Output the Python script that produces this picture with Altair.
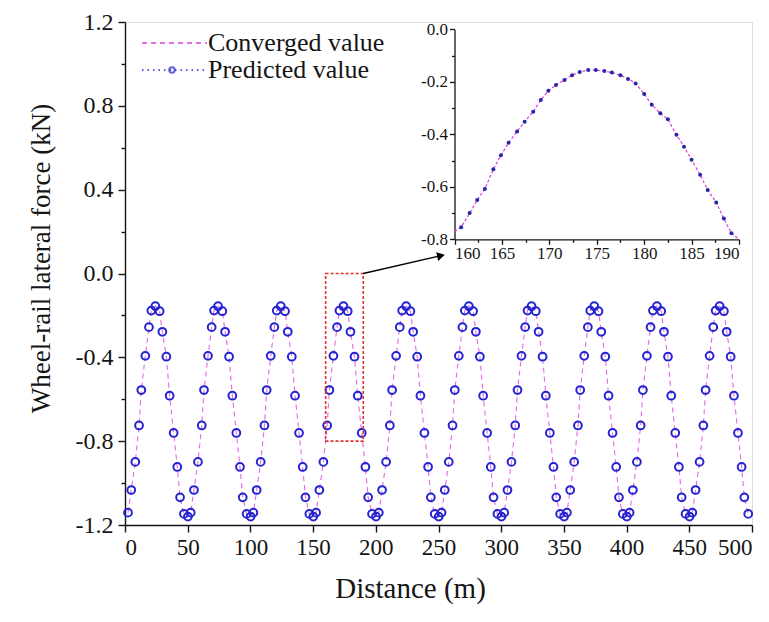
import altair as alt
import pandas as pd

# ---------------- data ----------------
# start of each 50 m cycle along the track
cycle_start = [0, 50, 100, 150, 200, 250, 300, 350, 400, 450]
# positions inside one cycle (m) and the force read at them (kN)
cycle_offset = [2.4, 5.0, 8.2, 11.2, 13.0, 16.2, 19.1, 21.0, 24.2, 27.6,
                29.8, 33.0, 35.6, 38.8, 41.7, 43.9, 47.0, 50.2]
cycle_force = [-1.141, -1.033, -0.899, -0.725, -0.556, -0.393, -0.256, -0.177, -0.156, -0.180,
               -0.278, -0.397, -0.583, -0.761, -0.923, -1.068, -1.147, -1.160]

# inset (zoom 160-190 m)
inset_dist = [160.0, 160.7, 161.6, 162.4, 163.2, 164.1, 164.9, 165.7, 166.6, 167.4, 168.3,
              169.1, 169.9, 170.7, 171.6, 172.4, 173.2, 174.1, 174.9, 175.8,
              176.6, 177.5, 178.3, 179.1, 180.0, 180.8, 181.7, 182.5, 183.4,
              184.2, 185.0, 185.9, 186.7, 187.6, 188.4, 189.2, 190.0]
inset_force = [-0.770, -0.754, -0.700, -0.650, -0.608, -0.533, -0.480, -0.432, -0.389, -0.352, -0.314,
               -0.269, -0.234, -0.212, -0.193, -0.175, -0.163, -0.155, -0.155, -0.159,
               -0.165, -0.175, -0.189, -0.206, -0.246, -0.287, -0.320, -0.343, -0.402,
               -0.447, -0.497, -0.554, -0.612, -0.660, -0.721, -0.777, -0.800]

zoom_box = {"x": [160], "x2": [190], "y": [0.0], "y2": [-0.8]}
arrow = {"x": [190], "y": [0.0], "x2": [252], "y2": [0.085]}

x_ticks = list(range(0, 525, 25))
y_ticks = [-1.2, -1.0, -0.8, -0.6, -0.4, -0.2, 0.0, 0.2, 0.4, 0.6, 0.8, 1.0, 1.2]
ix_ticks = [160, 162.5, 165, 167.5, 170, 172.5, 175, 177.5, 180, 182.5, 185, 187.5, 190]
iy_ticks = [-0.8, -0.7, -0.6, -0.5, -0.4, -0.3, -0.2, -0.1, 0.0]

# ---------------- build tables ----------------
rows = []
for s in cycle_start:
    for o, v in zip(cycle_offset, cycle_force):
        if s + o <= 500:
            rows.append({"dist": s + o, "force": v})
main_df = pd.DataFrame(rows)
inset_df = pd.DataFrame({"dist": inset_dist, "force": inset_force})
inset_pts = inset_df.iloc[1:-1]

FONT = "Liberation Serif"
MAGENTA = "#e040e0"
BLUE = "#2323d2"
INK = "#151515"
W, H = 627, 503

xs = alt.Scale(domain=[0, 500], nice=False, zero=False)
ys = alt.Scale(domain=[-1.2, 1.2], nice=False, zero=False)

x_axis = alt.Axis(
    values=x_ticks, title="Distance (m)", grid=False,
    labelExpr="datum.value % 50 === 0 ? format(datum.value, 'd') : ''",
    tickSize={"expr": "datum.value % 50 === 0 ? 7 : 4"},
    labelFont=FONT, labelFontSize=23, labelColor=INK, labelPadding=4,
    titleFont=FONT, titleFontSize=29, titleFontWeight="normal", titleColor=INK, titlePadding=15,
    titleX=285,
    domainColor=INK, tickColor=INK, domainWidth=1.4, tickWidth=1.4,
)
y_axis = alt.Axis(
    values=y_ticks, title="Wheel-rail lateral force (kN)", grid=False,
    labelExpr="abs(round(datum.value*10)) % 4 === 0 ? replace(format(datum.value, '.1f'), '\u2212', '-') : ''",
    tickSize={"expr": "abs(round(datum.value*10)) % 4 === 0 ? 7 : 4"},
    labelFont=FONT, labelFontSize=24, labelColor=INK, labelPadding=5,
    titleFont=FONT, titleFontSize=27, titleFontWeight="normal", titleColor=INK, titlePadding=20,
    titleY=236,
    domainColor=INK, tickColor=INK, domainWidth=1.4, tickWidth=1.4,
)

conv_line = alt.Chart(main_df).mark_line(
    color=MAGENTA, strokeDash=[5, 4], strokeWidth=1.1, opacity=0.8
).encode(
    x=alt.X("dist:Q", scale=xs, axis=x_axis),
    y=alt.Y("force:Q", scale=ys, axis=y_axis),
)
pred_pts = alt.Chart(main_df).mark_point(
    shape="circle", filled=False, color=BLUE, size=60, strokeWidth=2, opacity=1
).encode(x=alt.X("dist:Q", scale=xs), y=alt.Y("force:Q", scale=ys))

box = alt.Chart(pd.DataFrame(zoom_box)).mark_rect(
    fill=None, stroke="#e03030", strokeDash=[3, 2], strokeWidth=1.6
).encode(x=alt.X("x:Q", scale=xs), x2="x2:Q", y=alt.Y("y:Q", scale=ys), y2="y2:Q")

arrow_df = pd.DataFrame(arrow)
arrow_line = alt.Chart(arrow_df).mark_rule(color="black", strokeWidth=1.4).encode(
    x=alt.X("x:Q", scale=xs), y=alt.Y("y:Q", scale=ys), x2="x2:Q", y2="y2:Q")
arrow_head = alt.Chart(arrow_df).mark_point(
    shape="triangle-right", filled=True, color="black", size=80, angle=347, opacity=1
).encode(x=alt.X("x2:Q", scale=xs), y=alt.Y("y2:Q", scale=ys))

# legend
leg_conv = alt.Chart().mark_rule(color=MAGENTA, strokeDash=[5, 4], strokeWidth=1.3).encode(
    x=alt.value(17), x2=alt.value(82), y=alt.value(21))
leg_pred = alt.Chart().mark_rule(color=BLUE, strokeDash=[1.5, 4], strokeWidth=1.4).encode(
    x=alt.value(17), x2=alt.value(82), y=alt.value(48))
leg_circ = alt.Chart().mark_point(shape="circle", filled=False, color=BLUE, size=30, strokeWidth=2).encode(
    x=alt.value(47), y=alt.value(48))
leg_t1 = alt.Chart().mark_text(align="left", baseline="middle", font=FONT, fontSize=26, color=INK).encode(
    x=alt.value(83), y=alt.value(21), text=alt.value("Converged value"))
leg_t2 = alt.Chart().mark_text(align="left", baseline="middle", font=FONT, fontSize=26, color=INK).encode(
    x=alt.value(83), y=alt.value(48), text=alt.value("Predicted value"))

main = alt.layer(conv_line, pred_pts, box, arrow_line, arrow_head, leg_conv, leg_pred, leg_circ, leg_t1, leg_t2)

# inset
IX0, IX1 = 329.5, 614
IY0, IY1 = 217.3, 7.3
ixs = alt.Scale(domain=[160, 190], range=[IX0, IX1], nice=False, zero=False)
iys = alt.Scale(domain=[-0.8, 0.0], range=[IY0, IY1], nice=False, zero=False)
ix_axis = alt.Axis(
    orient="bottom", offset=-(H - IY0), values=ix_ticks, title=None, grid=False,
    labelExpr="datum.value % 5 === 0 ? format(datum.value, 'd') : ''",
    tickSize={"expr": "datum.value % 5 === 0 ? 5 : 3"},
    labelFont=FONT, labelFontSize=17, labelColor=INK, labelPadding=1,
    domainColor=INK, tickColor=INK, domainWidth=1.3, tickWidth=1.3,
)
iy_axis = alt.Axis(
    orient="left", offset=-IX0, values=iy_ticks, title=None, grid=False,
    labelExpr="abs(round(datum.value*10)) % 2 === 0 ? replace(format(datum.value, '.1f'), '\u2212', '-') : ''",
    tickSize={"expr": "abs(round(datum.value*10)) % 2 === 0 ? 5 : 3"},
    labelFont=FONT, labelFontSize=17, labelColor=INK, labelPadding=2,
    domainColor=INK, tickColor=INK, domainWidth=1.3, tickWidth=1.3,
)
in_line = alt.Chart(inset_df).mark_line(color=MAGENTA, strokeDash=[3, 2], strokeWidth=1.2).encode(
    x=alt.X("dist:Q", scale=ixs, axis=ix_axis),
    y=alt.Y("force:Q", scale=iys, axis=iy_axis),
)
in_pts = alt.Chart(inset_pts).mark_point(shape="circle", filled=True, color="#2626a8", size=16, opacity=1).encode(
    x=alt.X("dist:Q", scale=ixs), y=alt.Y("force:Q", scale=iys))
inset = alt.layer(in_line, in_pts)

chart = alt.layer(main, inset).resolve_scale(x="independent", y="independent").properties(
    width=W, height=H,
    autosize=alt.AutoSizeParams(type="none"),
    padding={"left": 117, "top": 14, "right": 8, "bottom": 80},
).configure_view(stroke=None).configure(background="white")

chart.save("out.html", embed_options={"renderer": "svg", "actions": False})
